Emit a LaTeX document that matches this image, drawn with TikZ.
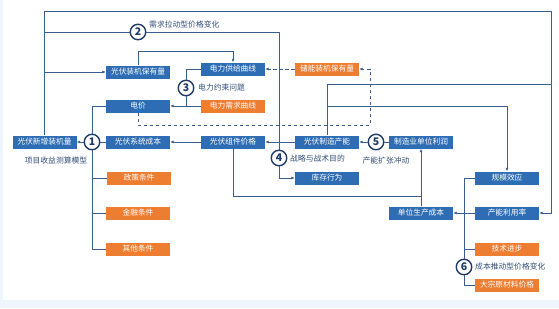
\documentclass[tikz,border=0pt]{standalone}
\usepackage{fontspec}
\setmainfont{Noto Sans CJK SC}
\usetikzlibrary{arrows.meta}
\definecolor{bxblue}{HTML}{2E6DB4}
\definecolor{bxorange}{HTML}{ED7D31}
\definecolor{lnc}{HTML}{3A5E90}
\definecolor{navy}{HTML}{1F3A64}
\definecolor{bgblue}{HTML}{EEF5FC}
\definecolor{lbl}{HTML}{34507A}
\begin{document}
\begin{tikzpicture}[x=1pt,y=-1pt,
 box/.style={minimum width=64pt,minimum height=13pt,inner sep=0pt,text=white,font=\fontsize{7.7}{8}\selectfont},
 bbox/.style={box,fill=bxblue},
 obox/.style={box,fill=bxorange},
 num/.style={circle,draw=navy,line width=1.4pt,fill=white,minimum size=15.5pt,inner sep=0pt,text=navy,font=\fontsize{10.5}{10.5}\selectfont\bfseries},
 lab/.style={text=lbl,font=\fontsize{7.8}{8}\selectfont,inner sep=0pt},
 ln/.style={draw=lnc,line width=0.75pt},
 arr/.style={ln,-{Latex[length=3.5pt,width=3pt]}},
 dsh/.style={ln,dash pattern=on 3.5pt off 2.5pt}
]
\useasboundingbox (0,0) rectangle (559,308);
\fill[bgblue] (0,0) rectangle (559,308);
\fill[white] (2.5,0) rectangle (559,300);

% blue boxes
\node[bbox] (xz)   at (44.5,142) {光伏新增装机量};
\node[bbox] (xtcb) at (138,142) {光伏系统成本};
\node[bbox] (zjjg) at (233,142) {光伏组件价格};
\node[bbox] (zzcn) at (327,142) {光伏制造产能};
\node[bbox] (lr)   at (421,142) {制造业单位利润};
\node[bbox] (bcyl) at (138,72) {光伏装机保有量};
\node[bbox] (gj)   at (233,69) {电力供给曲线};
\node[bbox] (dj)   at (138,106) {电价};
\node[bbox] (kc)   at (327,178) {库存行为};
\node[bbox] (gm)   at (507,178) {规模效应};
\node[bbox] (ly)   at (507,213) {产能利用率};
\node[bbox] (dw)   at (421,213) {单位生产成本};
% orange boxes
\node[obox] (xq) at (233,106) {电力需求曲线};
\node[obox] (cn) at (327,69) {储能装机保有量};
\node[obox] (zc) at (139,178) {政策条件};
\node[obox] (jr) at (138,213) {金融条件};
\node[obox] (qt) at (138,249) {其他条件};
\node[obox] (js) at (507,249) {技术进步};
\node[obox] (dz) at (507,285) {大宗原材料价格};
% numbered circles
\node[num] (c1) at (92,142) {1};
\node[num] (c2) at (138,32) {2};
\node[num] (c3) at (186,88) {3};
\node[num] (c4) at (279,158) {4};
\node[num] (c5) at (376,142) {5};
\node[num] (c6) at (464,267) {6};
% labels
\node[lab,anchor=west] (l2) at (149,25) {需求拉动型价格变化};
\node[lab,anchor=west] (l3) at (198,88) {电力约束问题};
\node[lab] (l1) at (56,161) {项目收益测算模型};
\node[lab,anchor=west] (l4) at (290,159) {战略与战术目的};
\node[lab] (l5) at (386,161) {产能扩张冲动};
\node[lab,anchor=west] (l6) at (475,267) {成本推动型价格变化};

% junction coordinates
\coordinate (jA) at (279,142);
\coordinate (jB) at (421,196);
\coordinate (jC) at (327,106);
\coordinate (jD) at (327,84);
\coordinate (jE) at (551,84);
\coordinate (jF) at (464,178);
\coordinate (jG) at (138,51);
\coordinate (dA) at (138,125);
\coordinate (dB) at (370,125);
\coordinate (dC) at (370,69);

% circle 1 area
\draw[ln] (xtcb.west) -- (c1.east);
\draw[arr] (c1.west) -- (xz.east);
\draw[arr] (zjjg.west) -- (xtcb.east);
\draw[arr] (zzcn.west) -- (zjjg.east);
\draw[arr] (c5.west) -- (zzcn.east);
\draw[ln] (lr.west) -- (c5.east);
\draw[ln] (dj.west) -| (c1.north);
\draw[ln] (c1.south) |- (qt.west);
\draw[ln] (c1.south |- zc.west) -- (zc.west);
\draw[ln] (c1.south |- jr.west) -- (jr.west);

% top loops
\draw[arr] (xz.north) |- (551,11) |- (ly.east);
\draw[ln] (xz.north |- c2) -- (c2.west);
\draw[ln] (c2.east) -| (jA);
\draw[arr] (xz.north |- bcyl) -- (bcyl.west);
\draw[arr] (bcyl.north) -- (jG) -| (gj.north);

% circle 3
\draw[ln] (gj.west) -| (c3.north);
\draw[arr] (c3.south) |- (dj.east);
\draw[ln] (xq.west) -- (c3.south |- xq.west);

% dashed storage loop
\draw[dsh,-{Latex[length=3.5pt,width=3pt]}] (dj.south) -- (dA) -- (dB) -- (dC) -- (cn.east);
\draw[dsh,-{Latex[length=3.5pt,width=3pt]}] (cn.west) -- (gj.east);

% circle 4
\draw[ln] (jA) -- (c4.north);
\draw[arr] (c4.south) |- (kc.west);

% manufacturing capacity
\draw[ln] (zzcn.north) -- (jD) -- (jE);
\draw[arr] (jC) -| (gm.north);

% unit profit
\draw[arr] (zjjg.south) |- (jB) -- (lr.south);
\draw[ln] (dw.north) -- (jB);
\draw[arr] (ly.west) -- (dw.east);

% circle 6
\draw[ln] (gm.west) -- (jF) -- (c6.north);
\draw[ln] (c6.south) |- (dz.west);
\draw[ln] (jF |- js.west) -- (js.west);
\end{tikzpicture}
\end{document}
